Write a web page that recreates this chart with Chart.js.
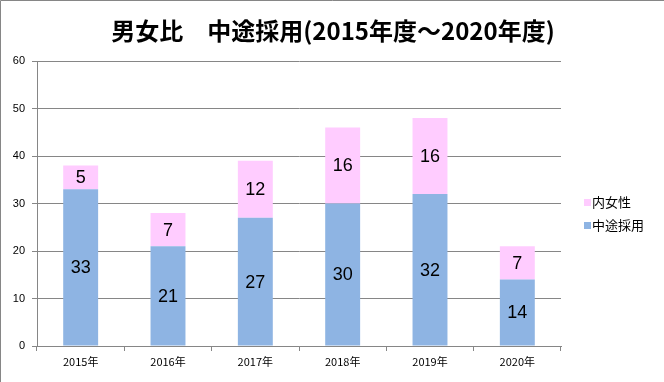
<!DOCTYPE html>
<html><head><meta charset="utf-8">
<script src="https://cdn.jsdelivr.net/npm/chart.js@4/dist/chart.umd.min.js"></script>
<style>html,body{margin:0;padding:0;background:#fff;}#wrap{width:664px;height:382px;position:relative;}</style>
</head><body><div id="wrap"><canvas id="c" width="664" height="382"></canvas></div>
<script>
const titleText = '男女比　中途採用(2015年度～2020年度)';
const categories = ['2015年','2016年','2017年','2018年','2019年','2020年'];
const midCareer = [33,21,27,30,32,14];
const women = [5,7,12,16,16,7];
const seriesNames = ['中途採用','内女性'];
const yTicks = [0,10,20,30,40,50,60];
const colors = ['#8EB4E3','#FFCCFF'];

const jp = '"Noto Sans CJK JP", "Liberation Sans", sans-serif';

const deco = {
  id:'deco',
  beforeDraw(chart){
    const ctx = chart.ctx;
    ctx.save();
    ctx.fillStyle='#fff';
    ctx.fillRect(0,0,chart.width,chart.height);
    ctx.restore();
  },
  afterDatasetsDraw(chart){
    const ctx = chart.ctx;
    ctx.save();
    ctx.font = '18px "Liberation Sans", sans-serif';
    ctx.fillStyle='#000';
    ctx.textAlign='center';
    ctx.textBaseline='middle';
    chart.data.datasets.forEach((ds,i)=>{
      const meta = chart.getDatasetMeta(i);
      meta.data.forEach((bar,j)=>{
        const y = (bar.y + bar.base)/2;
        ctx.fillText(String(ds.data[j]), bar.x, y+1);
      });
    });
    ctx.restore();
  },
  afterDraw(chart){
    const ctx = chart.ctx;
    ctx.save();
    ctx.strokeStyle='#868686';
    ctx.lineWidth=1;
    ctx.beginPath();
    ctx.moveTo(0.5, chart.height); ctx.lineTo(0.5,0.5); ctx.lineTo(chart.width,0.5);
    ctx.stroke();
    ctx.font = 'bold 24px '+jp;
    ctx.fillStyle='#000';
    ctx.textAlign='center';
    ctx.textBaseline='middle';
    ctx.fillText(titleText, 333, 31);
    ctx.font = '13px '+jp;
    ctx.textAlign='left';
    const items = [[1, 202],[0, 225]];
    items.forEach(([idx,y])=>{
      ctx.fillStyle = colors[idx];
      ctx.fillRect(584, y-3, 7, 7);
      ctx.fillStyle='#000';
      ctx.fillText(seriesNames[idx], 592, y);
    });
    ctx.restore();
  }
};

new Chart(document.getElementById('c'), {
  type:'bar',
  data:{
    labels:categories,
    datasets:[
      {label:seriesNames[0], data:midCareer, backgroundColor:colors[0], borderWidth:0, barPercentage:0.4, categoryPercentage:1},
      {label:seriesNames[1], data:women, backgroundColor:colors[1], borderWidth:0, barPercentage:0.4, categoryPercentage:1}
    ]
  },
  options:{
    responsive:false,
    animation:false,
    events:[],
    layout:{padding:{top:61,right:103,left:0,bottom:0}},
    plugins:{legend:{display:false},title:{display:false},tooltip:{enabled:false}},
    scales:{
      x:{
        stacked:true,
        grid:{display:true, drawOnChartArea:false, drawTicks:true, tickLength:5, offset:true, color:'#868686'},
        border:{display:true,color:'#868686'},
        ticks:{color:'#000', font:{size:11, family:jp}, padding:4},
        afterFit(s){ s.height = 36; }
      },
      y:{
        stacked:true,
        min:0,max:60,
        afterBuildTicks(s){ s.ticks = yTicks.map(v=>({value:v})); },
        grid:{color:'#868686', tickLength:5},
        border:{display:true,color:'#868686'},
        ticks:{color:'#000', font:{size:11, family:'"Liberation Sans", sans-serif'}, padding:7},
        afterFit(s){ s.width = 37; }
      }
    }
  },
  plugins:[deco]
});
</script></body></html>
